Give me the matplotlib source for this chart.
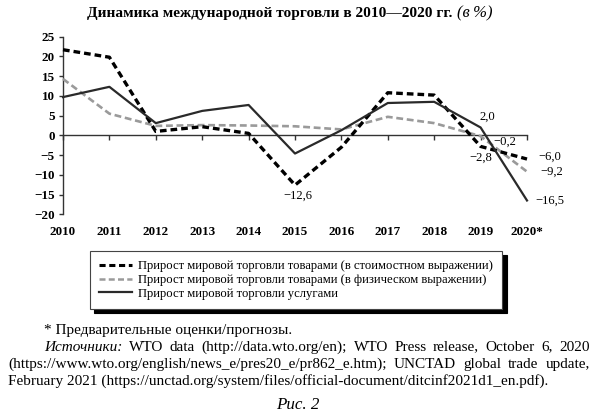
import matplotlib
matplotlib.use("Agg")
import matplotlib.pyplot as plt
import matplotlib.transforms as mtransforms
from matplotlib.lines import Line2D

years = [2010, 2011, 2012, 2013, 2014, 2015, 2016, 2017, 2018, 2019, 2020]
year_labels = ['2010', '2011', '2012', '2013', '2014', '2015', '2016', '2017', '2018', '2019', '2020*']
goods_value = [21.7, 19.8, 1.0, 2.2, 0.5, -12.6, -3.0, 10.8, 10.2, -2.8, -6.0]
goods_volume = [14.3, 5.5, 2.4, 2.6, 2.5, 2.3, 1.5, 4.7, 3.1, -0.2, -9.2]
services = [9.7, 12.3, 3.1, 6.2, 7.7, -4.6, 1.3, 8.2, 8.5, 2.0, -16.5]
y_ticks = [-20, -15, -10, -5, 0, 5, 10, 15, 20, 25]
series_names = ['Прирост мировой торговли товарами (в стоимостном выражении)',
                'Прирост мировой торговли товарами (в физическом выражении)',
                'Прирост мировой торговли услугами']

SERIF = 'Liberation Serif'
plt.rcParams['font.family'] = [SERIF, 'DejaVu Serif']

W, H = 595, 419
fig = plt.figure(figsize=(W / 100, H / 100), dpi=100)
fig.canvas.draw()
renderer = fig.canvas.get_renderer()


def fx(px):
    return px / W


def fy(py):
    return 1 - py / H


def width_px(s, fs, weight='normal', style='normal'):
    t = fig.text(0, 0, s, fontsize=fs, fontweight=weight, style=style)
    w = t.get_window_extent(renderer).width
    t.remove()
    return w


def fit(s, target, weight='normal', style='normal'):
    return 10 * target / width_px(s, 10, weight, style)


ax = fig.add_axes([fx(63), fy(214.3), fx(527) - fx(63), fy(36.7) - fy(214.3)])
ax.set_xlim(2010, 2020)
ax.set_ylim(-20, 25)

ax.plot(years, goods_value, color='black', lw=2.4, dashes=(2.0, 1.2), clip_on=False, zorder=4)
ax.plot(years, goods_volume, color='#9a9a9a', lw=1.9, dashes=(2.6, 1.4), clip_on=False, zorder=3)
ax.plot(years, services, color='#2a2a2a', lw=1.6, clip_on=False, zorder=5)

for s in ['top', 'right']:
    ax.spines[s].set_visible(False)
ax.spines['bottom'].set_position(('data', 0))
ax.spines['left'].set_bounds(-20, 25)
for s in ['left', 'bottom']:
    ax.spines[s].set_color('#333333')
    ax.spines[s].set_linewidth(1.0)

tick_fs = fit('2010', 26, weight='bold')
ax.set_yticks(y_ticks)
ax.set_yticklabels([f'{v}'.replace('-', '\u2212') for v in y_ticks], fontsize=tick_fs, fontweight='bold')
ax.tick_params(axis='y', direction='out', length=3, width=1, pad=3, colors='#333333', labelcolor='black')
ax.set_xticks(years)
ax.set_xticklabels([])
ax.tick_params(axis='x', direction='out', length=3.5, width=1, colors='#333333')

trans = mtransforms.blended_transform_factory(ax.transData, ax.transAxes)
for yr, lab in zip(years, year_labels):
    ax.text(yr, -0.101, lab, transform=trans, ha='center', va='center', fontsize=tick_fs,
            fontweight='bold', clip_on=False)


def fmt(v):
    return f'{v:.1f}'.replace('.', ',').replace('-', '\u2212')


lab_fs = fit('\u221216,5', 29)
lab_kw = dict(fontsize=lab_fs, clip_on=False, textcoords='offset pixels', va='center')
ax.annotate(fmt(goods_value[5]), (years[5], goods_value[5]), xytext=(3, -11), ha='center', **lab_kw)
ax.annotate(fmt(services[9]), (years[9], services[9]), xytext=(7, 11), ha='center', **lab_kw)
ax.annotate(fmt(goods_volume[9]), (years[9], goods_volume[9]), xytext=(24, -6), ha='center', **lab_kw)
ax.annotate(fmt(goods_value[9]), (years[9], goods_value[9]), xytext=(0, -11), ha='center', **lab_kw)
ax.annotate(fmt(goods_value[10]), (years[10], goods_value[10]), xytext=(11, 2), ha='left', **lab_kw)
ax.annotate(fmt(goods_volume[10]), (years[10], goods_volume[10]), xytext=(13, 0), ha='left', **lab_kw)
ax.annotate(fmt(services[10]), (years[10], services[10]), xytext=(8, 0), ha='left', **lab_kw)

# Title
title_main = 'Динамика международной торговли в 2010\u20142020 гг.'
title_fs = fit(title_main, 365, weight='bold')
fig.text(fx(87), fy(13), title_main, ha='left', va='center', fontsize=title_fs, fontweight='bold')
ital_fs = title_fs * 1.08
fig.text(fx(457), fy(13), '(в\u2009%)', ha='left', va='center', fontsize=ital_fs, style='italic')

# Legend
leg_fs = fit(series_names[0], 357)
handles = [Line2D([], [], color='black', lw=2.2, dashes=(2.0, 1.2)),
           Line2D([], [], color='#9a9a9a', lw=1.8, dashes=(2.4, 1.3)),
           Line2D([], [], color='#2a2a2a', lw=1.6)]
leg = fig.legend(handles, series_names, loc='upper left', bbox_to_anchor=(fx(90), fy(251)),
                 frameon=True, fancybox=False, fontsize=leg_fs, handlelength=2.6, handletextpad=0.45,
                 labelspacing=0.12, borderpad=0.75, borderaxespad=0,
                 shadow={'ox': 3, 'oy': -3, 'color': 'black', 'alpha': 1})
leg.get_frame().set_edgecolor('#444444')
leg.get_frame().set_linewidth(0.8)

# Footnotes with justification
line4 = 'February 2021 (https://unctad.org/system/files/official-document/ditcinf2021d1_en.pdf).'
FS = fit(line4, 540)


def justify(words, x0, x1, y):
    widths = [width_px(w, FS, style=st) for w, st in words]
    gap = (x1 - x0 - sum(widths)) / (len(words) - 1)
    x = x0
    for (w, st), wd in zip(words, widths):
        fig.text(fx(x), fy(y), w, ha='left', va='center', fontsize=FS, style=st)
        x += wd + gap


fig.text(fx(44), fy(330), '* Предварительные оценки/прогнозы.', ha='left', va='center', fontsize=FS)
line2 = [('Источники:', 'italic')] + [(w, 'normal') for w in
         'WTO data (http://data.wto.org/en); WTO Press release, October 6, 2020'.split(' ')]
justify(line2, 44, 590, 347)
line3 = [(w, 'normal') for w in
         '(https://www.wto.org/english/news_e/pres20_e/pr862_e.htm); UNCTAD global trade update,'.split(' ')]
justify(line3, 8, 590, 364)
fig.text(fx(8), fy(381), line4, ha='left', va='center', fontsize=FS)
fig.text(fx(298), fy(405), 'Рис. 2', ha='center', va='center', fontsize=FS * 1.12, style='italic')

fig.savefig('out.png', dpi=100)
